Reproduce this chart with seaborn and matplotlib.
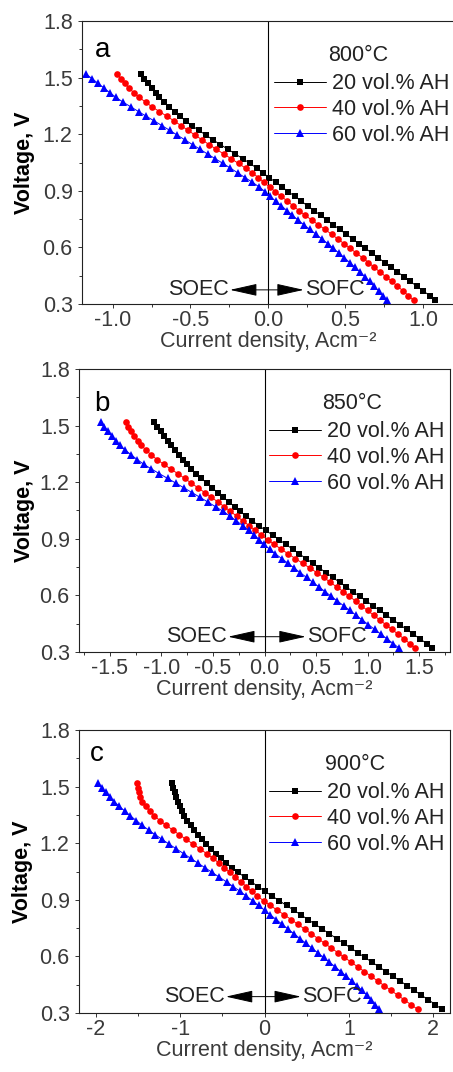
import matplotlib
matplotlib.use('Agg')
import matplotlib.pyplot as plt
from matplotlib.ticker import MultipleLocator, FormatStrFormatter
import seaborn as sns

# voltage (V) at which the current was read, shared by every curve
volts = [1.52, 1.495, 1.47, 1.445, 1.42, 1.395, 1.37, 1.345, 1.32, 1.295,
         1.27, 1.245, 1.22, 1.195, 1.17, 1.145, 1.12, 1.095, 1.07, 1.045,
         1.02, 0.995, 0.97, 0.945, 0.92, 0.895, 0.87, 0.845, 0.82, 0.795,
         0.77, 0.745, 0.72, 0.695, 0.67, 0.645, 0.62, 0.595, 0.57, 0.545,
         0.52, 0.495, 0.47, 0.445, 0.42, 0.395, 0.37, 0.345, 0.32]

# current density (A/cm2), 800 C
cur_a_20 = [-0.82, -0.797, -0.773, -0.749, -0.724, -0.70, -0.673, -0.638, -0.603, -0.568,
            -0.53, -0.49, -0.445, -0.40, -0.355, -0.307, -0.258, -0.21, -0.162, -0.115,
            -0.073, -0.033, 0.008, 0.05, 0.091, 0.132, 0.174, 0.215, 0.256, 0.298,
            0.339, 0.38, 0.422, 0.463, 0.504, 0.546, 0.587, 0.629, 0.67, 0.711,
            0.753, 0.794, 0.835, 0.877, 0.918, 0.959, 1.001, 1.042, 1.08]
cur_a_40 = [-0.975, -0.95, -0.925, -0.898, -0.865, -0.83, -0.79, -0.748, -0.70, -0.652,
            -0.605, -0.56, -0.515, -0.47, -0.425, -0.38, -0.333, -0.285, -0.237, -0.19,
            -0.145, -0.10, -0.062, -0.027, 0.01, 0.048, 0.087, 0.125, 0.163, 0.20,
            0.24, 0.282, 0.325, 0.368, 0.41, 0.45, 0.49, 0.53, 0.57, 0.61,
            0.648, 0.685, 0.722, 0.76, 0.798, 0.835, 0.87, 0.905, 0.94]
cur_a_60 = [-1.175, -1.136, -1.097, -1.058, -1.02, -0.98, -0.935, -0.885, -0.835, -0.785,
            -0.733, -0.683, -0.633, -0.585, -0.536, -0.487, -0.438, -0.39, -0.34, -0.29,
            -0.242, -0.195, -0.148, -0.10, -0.056, -0.018, 0.015, 0.05, 0.087, 0.123,
            0.158, 0.194, 0.232, 0.27, 0.31, 0.348, 0.386, 0.422, 0.458, 0.493,
            0.527, 0.561, 0.594, 0.625, 0.655, 0.685, 0.713, 0.741, 0.767]

# 850 C
cur_b_20 = [-1.07, -1.04, -1.008, -0.975, -0.941, -0.906, -0.87, -0.833, -0.793, -0.752,
            -0.71, -0.662, -0.612, -0.56, -0.508, -0.455, -0.40, -0.345, -0.29, -0.235,
            -0.178, -0.12, -0.055, 0.01, 0.078, 0.143, 0.208, 0.273, 0.338, 0.403,
            0.468, 0.533, 0.598, 0.663, 0.728, 0.793, 0.858, 0.923, 0.988, 1.053,
            1.118, 1.183, 1.248, 1.313, 1.378, 1.443, 1.508, 1.573, 1.63]
cur_b_40 = [-1.348, -1.322, -1.295, -1.265, -1.232, -1.194, -1.15, -1.10, -1.043, -0.978,
            -0.91, -0.84, -0.775, -0.71, -0.645, -0.58, -0.515, -0.452, -0.39, -0.33,
            -0.27, -0.21, -0.15, -0.09, -0.03, 0.032, 0.096, 0.162, 0.23, 0.30,
            0.37, 0.44, 0.51, 0.575, 0.638, 0.70, 0.765, 0.824, 0.883, 0.94,
            1.0, 1.058, 1.118, 1.176, 1.236, 1.295, 1.352, 1.41, 1.46]
cur_b_60 = [-1.59, -1.553, -1.516, -1.478, -1.443, -1.402, -1.35, -1.294, -1.235, -1.172,
            -1.097, -1.02, -0.94, -0.86, -0.782, -0.704, -0.627, -0.55, -0.475, -0.40,
            -0.335, -0.272, -0.212, -0.155, -0.10, -0.05, -0.005, 0.05, 0.105, 0.168,
            0.228, 0.288, 0.348, 0.408, 0.468, 0.528, 0.588, 0.648, 0.708, 0.768,
            0.828, 0.888, 0.948, 1.008, 1.068, 1.128, 1.188, 1.248, 1.308]

# 900 C
cur_c_20 = [-1.095, -1.08, -1.063, -1.045, -1.027, -1.005, -0.98, -0.95, -0.915, -0.877,
            -0.836, -0.793, -0.745, -0.693, -0.638, -0.58, -0.518, -0.454, -0.385, -0.31,
            -0.235, -0.155, -0.075, 0.005, 0.09, 0.176, 0.262, 0.348, 0.433, 0.518,
            0.602, 0.686, 0.77, 0.854, 0.938, 1.022, 1.106, 1.19, 1.273, 1.357,
            1.44, 1.524, 1.608, 1.692, 1.776, 1.86, 1.943, 2.027, 2.10]
cur_c_40 = [-1.51, -1.50, -1.488, -1.472, -1.448, -1.41, -1.36, -1.305, -1.24, -1.165,
            -1.088, -1.01, -0.928, -0.845, -0.765, -0.686, -0.61, -0.54, -0.475, -0.41,
            -0.345, -0.28, -0.215, -0.152, -0.085, -0.01, 0.07, 0.152, 0.235, 0.318,
            0.397, 0.475, 0.555, 0.633, 0.712, 0.79, 0.87, 0.948, 1.027, 1.105,
            1.185, 1.263, 1.342, 1.42, 1.50, 1.578, 1.657, 1.735, 1.815]
cur_c_60 = [-1.975, -1.93, -1.885, -1.835, -1.78, -1.72, -1.655, -1.59, -1.52, -1.45,
            -1.375, -1.295, -1.213, -1.13, -1.045, -0.96, -0.875, -0.79, -0.705, -0.62,
            -0.535, -0.45, -0.37, -0.29, -0.215, -0.14, -0.07, 0.0, 0.07, 0.14,
            0.21, 0.28, 0.35, 0.42, 0.49, 0.56, 0.63, 0.70, 0.77, 0.838,
            0.905, 0.97, 1.035, 1.097, 1.157, 1.213, 1.265, 1.315, 1.36]

series_labels = ['20 vol.% AH', '40 vol.% AH', '60 vol.% AH']
temps = ['800°C', '850°C', '900°C']
letters = ['a', 'b', 'c']
yticks = [0.3, 0.6, 0.9, 1.2, 1.5, 1.8]
xticks_a = [-1.0, -0.5, 0.0, 0.5, 1.0]
xticks_b = [-1.5, -1.0, -0.5, 0.0, 0.5, 1.0, 1.5]
xticks_c = [-2, -1, 0, 1, 2]

colors = ['#000000', '#ff0000', '#0000ff']
markers = ['s', 'o', '^']
msizes = [4.2, 4.8, 5.2]

sns.set_style('ticks')
plt.rcParams['font.family'] = ['Liberation Sans', 'DejaVu Sans']
plt.rcParams['axes.unicode_minus'] = False

fig = plt.figure(figsize=(4.53, 10.72), dpi=100)

panels = [
    dict(pos=[0.1810, 0.7164, 0.8212, 0.2640], xlim=(-1.2, 1.2), xticks=xticks_a, minor=0.25, fmt='%.1f',
         curves=[cur_a_20, cur_a_40, cur_a_60], letter_xy=(0.035, 0.874), temp_x=0.661,
         soec=0.398, sofc=0.596, arr_y=0.05, leg_x=0.988, ylab_x=-0.126),
    dict(pos=[0.1744, 0.3918, 0.8190, 0.2640], xlim=(-1.8, 1.8), xticks=xticks_b, minor=0.25, fmt='%.1f',
         curves=[cur_b_20, cur_b_40, cur_b_60], letter_xy=(0.042, 0.852), temp_x=0.655,
         soec=0.402, sofc=0.611, arr_y=0.054, leg_x=0.986, ylab_x=-0.119),
    dict(pos=[0.1744, 0.0550, 0.8190, 0.2640], xlim=(-2.2, 2.2), xticks=xticks_c, minor=0.5, fmt='%d',
         curves=[cur_c_20, cur_c_40, cur_c_60], letter_xy=(0.028, 0.889), temp_x=0.662,
         soec=0.396, sofc=0.598, arr_y=0.058, leg_x=0.986, ylab_x=-0.124),
]

tick_col = '#3a3a3a'
for i, p in enumerate(panels):
    ax = fig.add_axes(p['pos'])
    for cur, col, mk, ms in zip(p['curves'], colors, markers, msizes):
        sns.lineplot(x=cur, y=volts, ax=ax, color=col, marker=mk, markersize=ms,
                     markeredgewidth=0, linewidth=0.7, sort=False, estimator=None, legend=False)
    handles = list(ax.lines[:3])
    ax.axvline(0, color='black', lw=0.8, zorder=1)

    ax.set_xlim(*p['xlim'])
    ax.set_ylim(0.3, 1.8)
    ax.set_xticks(p['xticks'])
    ax.set_yticks(yticks)
    ax.xaxis.set_major_formatter(FormatStrFormatter(p['fmt']))
    ax.yaxis.set_major_formatter(FormatStrFormatter('%.1f'))
    ax.xaxis.set_minor_locator(MultipleLocator(p['minor']))
    ax.yaxis.set_minor_locator(MultipleLocator(0.15))
    ax.tick_params(which='both', direction='out', top=False, right=False, width=0.7, color='#333333')
    ax.tick_params(which='major', length=3.2, labelsize=15.5, labelcolor=tick_col)
    ax.tick_params(which='minor', length=2)
    ax.tick_params(axis='x', pad=1)
    ax.tick_params(axis='y', pad=3.5)
    for s in ax.spines.values():
        s.set_linewidth(0.8)
        s.set_color('#222222')

    ax.set_ylabel('Voltage, V', fontsize=15.5, fontweight='bold', color='black')
    ax.yaxis.set_label_coords(p['ylab_x'], 0.5)
    ax.set_xlabel('Current density, Acm⁻²', fontsize=15.5, color=tick_col, va='top')
    ax.xaxis.set_label_coords(0.5, -0.095)

    ax.text(p['letter_xy'][0], p['letter_xy'][1], letters[i], transform=ax.transAxes,
            fontsize=20, va='baseline', ha='left', color='black')
    ax.text(p['temp_x'], 0.878, temps[i], transform=ax.transAxes,
            fontsize=15.5, va='center', ha='left', color='#222222')
    ax.legend(handles, series_labels, loc='upper right', bbox_to_anchor=(p['leg_x'], 0.816),
              frameon=False, fontsize=15.5, handlelength=2.4, handletextpad=0.3,
              labelspacing=0.22, borderpad=0, borderaxespad=0, labelcolor='#222222')

    ax.annotate('', xy=(p['soec'], p['arr_y']), xytext=(p['sofc'], p['arr_y']),
                xycoords='axes fraction', textcoords='axes fraction',
                arrowprops=dict(arrowstyle='<|-|>,head_length=1.7,head_width=0.38',
                                mutation_scale=10, lw=0.7, color='black', shrinkA=0, shrinkB=0))
    ax.text(p['soec'] - 0.003, p['arr_y'], 'SOEC', transform=ax.transAxes, fontsize=15.5,
            ha='right', va='center', color='#222222')
    ax.text(p['sofc'] + 0.004, p['arr_y'], 'SOFC', transform=ax.transAxes, fontsize=15.5,
            ha='left', va='center', color='#222222')

fig.savefig('out.png', dpi=100)
